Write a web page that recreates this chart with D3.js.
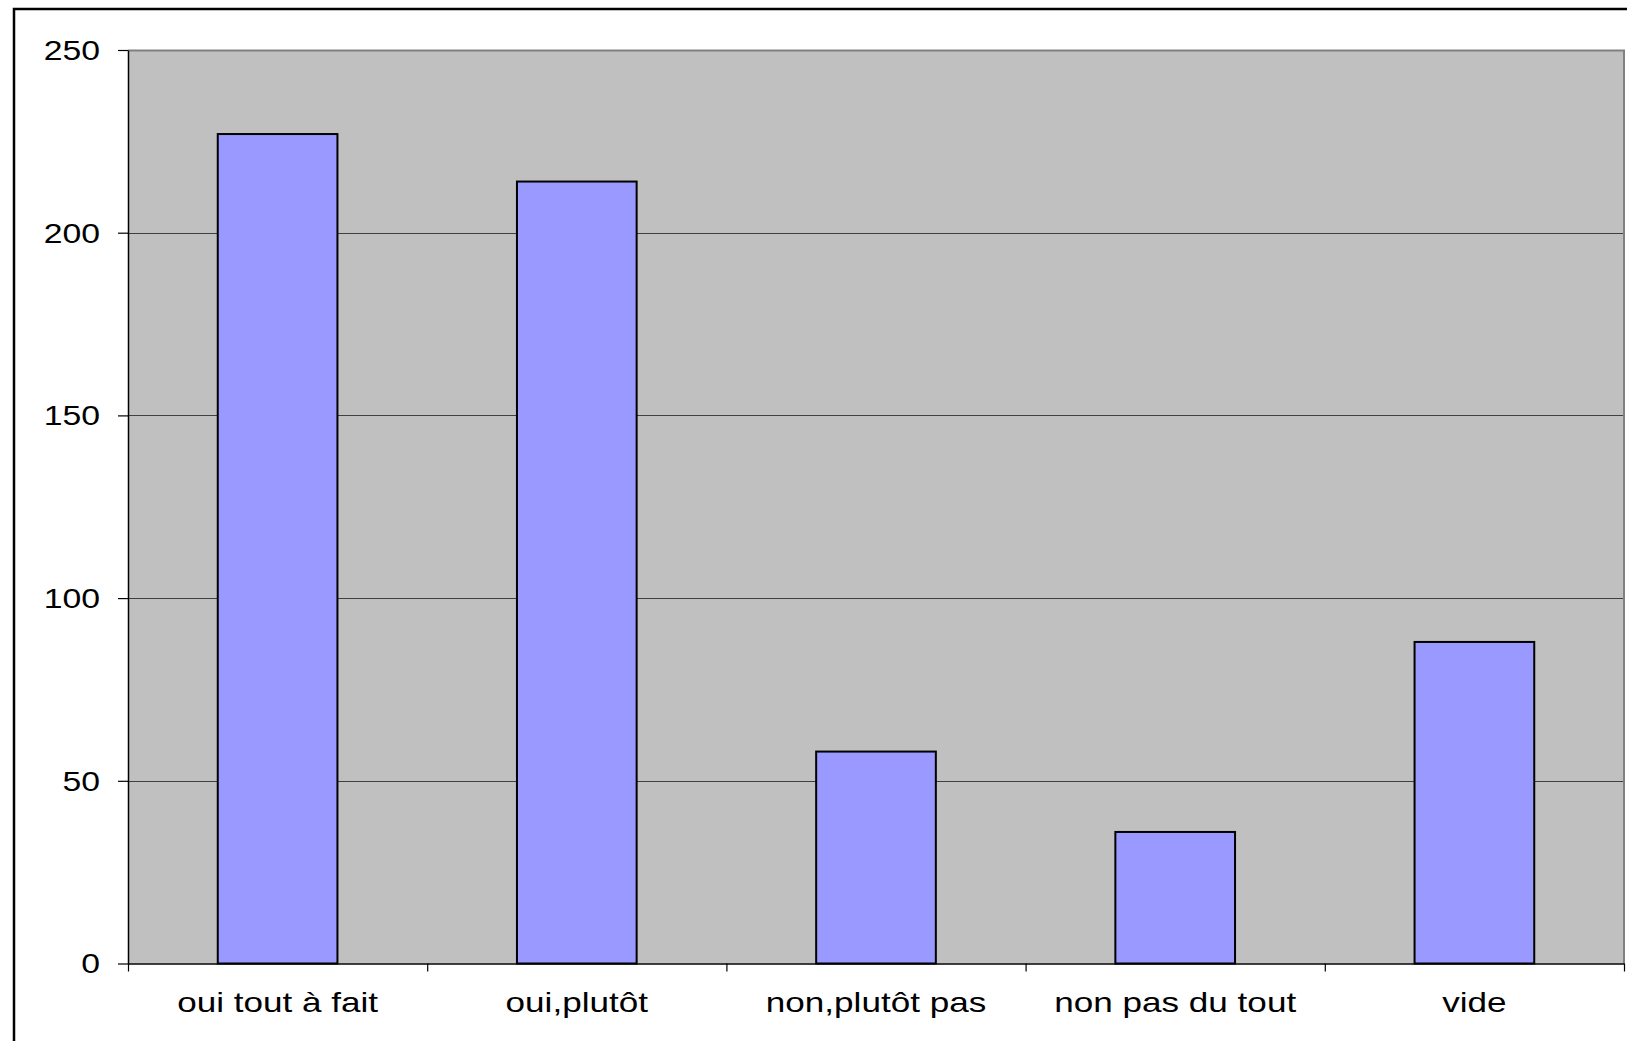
<!DOCTYPE html>
<html>
<head>
<meta charset="utf-8">
<script src="https://cdn.jsdelivr.net/npm/d3@7"></script>
<style>
  html, body { margin: 0; padding: 0; background: #fff; overflow: hidden; }
  svg { display: block; }
</style>
</head>
<body>
<svg id="chart" width="1627" height="1041"></svg>
<script>
const categories = ["oui tout à fait", "oui,plutôt", "non,plutôt pas", "non pas du tout", "vide"];
const values = [227, 214, 58, 36, 88];
const yTicks = [0, 50, 100, 150, 200, 250];

const svg = d3.select("#chart");
const W = 1627, H = 1041;
const m = { left: 128, top: 50, right: 1624, bottom: 963.5 };

// outer frame (extends beyond bottom/right of the view)
svg.append("rect")
  .attr("x", 14).attr("y", 9)
  .attr("width", W + 20).attr("height", H + 20)
  .attr("fill", "#fff").attr("stroke", "#000").attr("stroke-width", 2.5);

const x = d3.scaleBand().domain(categories).range([m.left, m.right])
  .paddingInner(0.6).paddingOuter(0.3);
const xEdge = d3.scaleLinear().domain([0, categories.length]).range([m.left, m.right]);
const y = d3.scaleLinear().domain([0, 250]).range([m.bottom, m.top]);

// plot background
svg.append("rect")
  .attr("x", m.left).attr("y", m.top)
  .attr("width", m.right - m.left).attr("height", m.bottom - m.top)
  .attr("fill", "#c0c0c0");

// gridlines
svg.append("g").selectAll("line")
  .data(yTicks.filter(d => d > 0 && d < 250))
  .join("line")
  .attr("x1", m.left).attr("x2", m.right)
  .attr("y1", d => Math.round(y(d)) + 0.5).attr("y2", d => Math.round(y(d)) + 0.5)
  .attr("stroke", "#404040").attr("stroke-width", 1.2);

// plot top and right border
svg.append("path")
  .attr("d", `M${m.left},${m.top + 0.5}H${m.right}V${m.bottom}`)
  .attr("fill", "none").attr("stroke", "#808080").attr("stroke-width", 2);

// bars
svg.append("g").selectAll("rect")
  .data(values)
  .join("rect")
  .attr("x", (d, i) => x(categories[i]))
  .attr("y", d => y(d))
  .attr("width", x.bandwidth())
  .attr("height", d => y(0) - y(d))
  .attr("fill", "#9999ff")
  .attr("stroke", "#000").attr("stroke-width", 2);

// y axis
const yAxis = svg.append("g")
  .attr("transform", `translate(${m.left},0)`)
  .call(d3.axisLeft(y).tickValues(yTicks).tickSize(10).tickSizeOuter(0));
yAxis.select(".domain").attr("stroke", "#000").attr("stroke-width", 1.5);
yAxis.selectAll(".tick line").attr("stroke", "#000").attr("stroke-width", 1.2);
yAxis.selectAll(".tick text")
  .attr("x", 0).attr("dy", "0.35em")
  .attr("transform", "translate(-28,0) scale(1.25,1)")
  .attr("font-family", "'Liberation Sans', Arial, sans-serif")
  .attr("font-size", 27).attr("fill", "#000");

// x axis boundary ticks
const xAxis = svg.append("g")
  .attr("transform", `translate(0,${m.bottom})`)
  .call(d3.axisBottom(xEdge).tickValues(d3.range(0, categories.length + 1)).tickSize(8).tickSizeOuter(0).tickFormat(""));
xAxis.select(".domain").attr("stroke", "#000").attr("stroke-width", 1.5);
xAxis.selectAll(".tick line").attr("stroke", "#000").attr("stroke-width", 1.2);

// x category labels
const xLab = svg.append("g")
  .attr("transform", `translate(0,${m.bottom})`)
  .call(d3.axisBottom(x).tickSize(0));
xLab.select(".domain").remove();
xLab.selectAll(".tick text")
  .attr("y", 0).attr("dy", 0)
  .attr("transform", "translate(0,48) scale(1.3,1)")
  .attr("font-family", "'Liberation Sans', Arial, sans-serif")
  .attr("font-size", 27).attr("fill", "#000");
</script>
</body>
</html>
